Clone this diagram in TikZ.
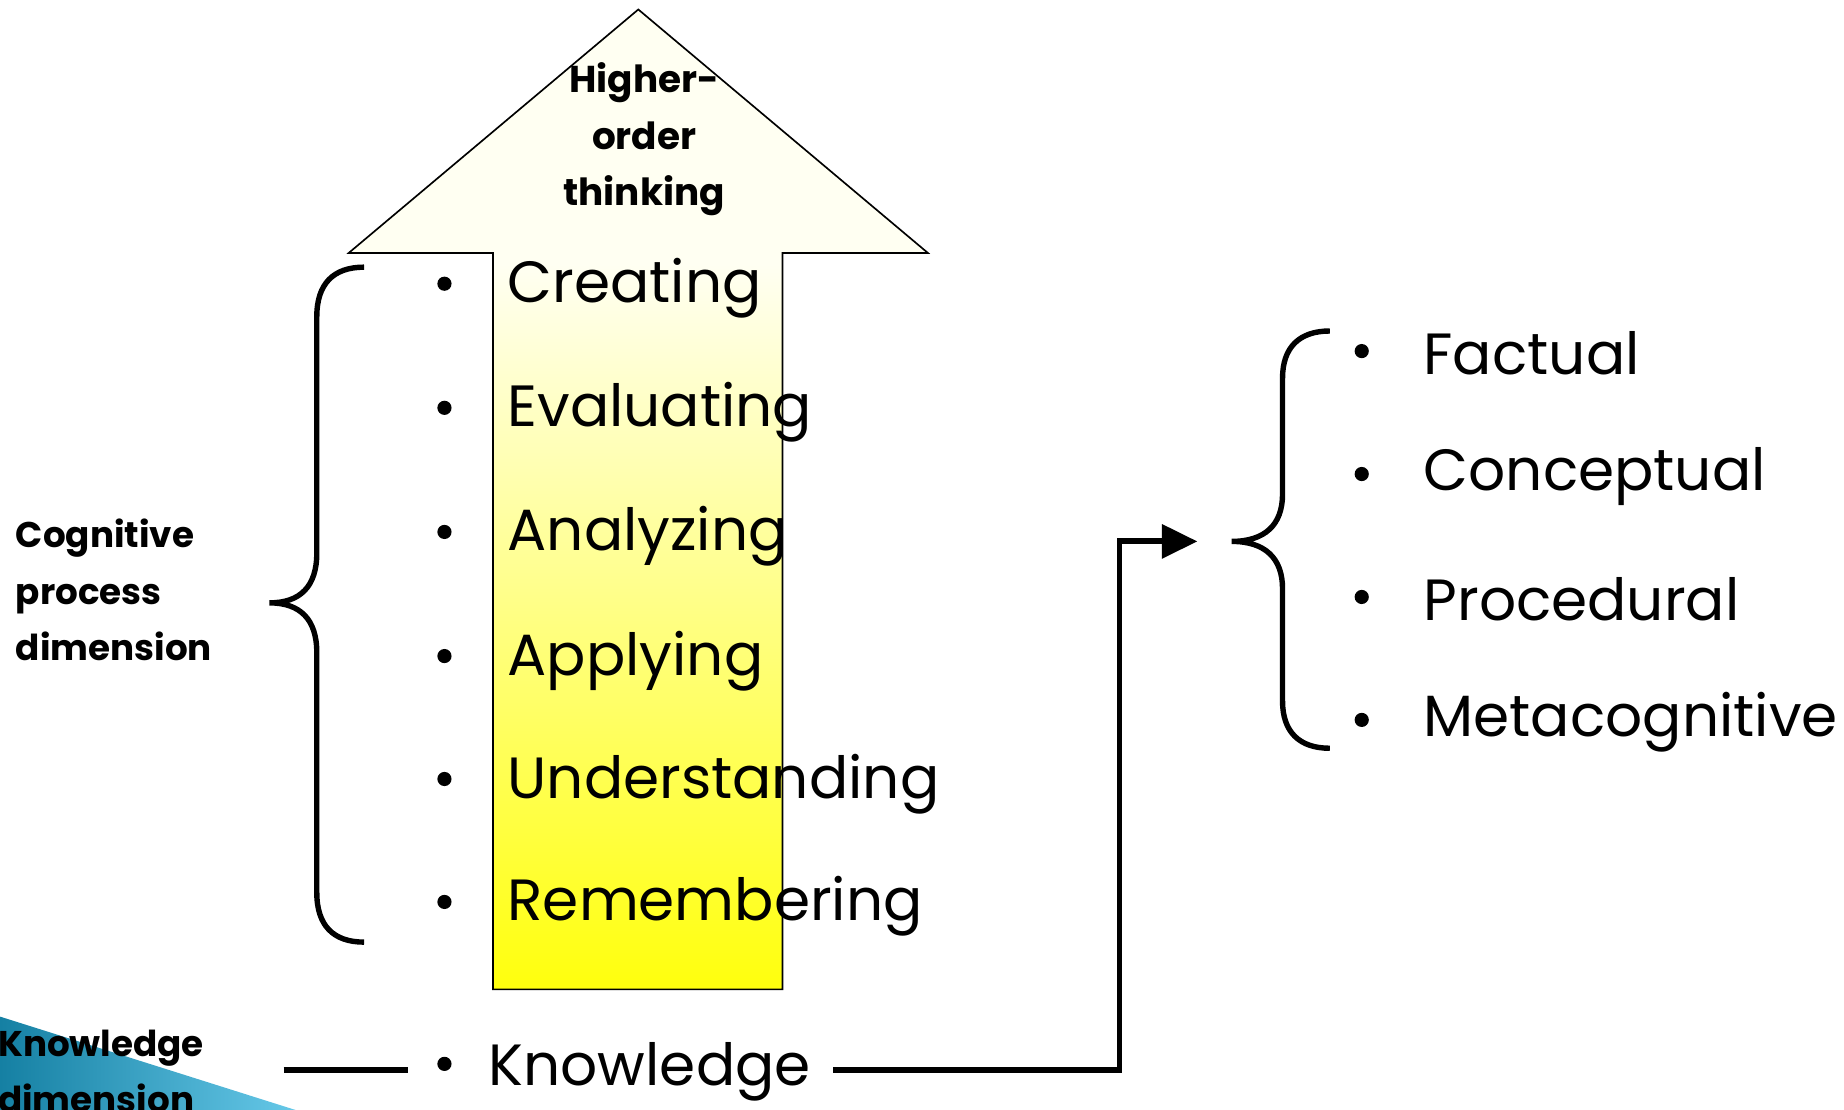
\documentclass[tikz,border=0pt]{standalone}
\usepackage{fontspec}
\setmainfont{Poppins}
\usetikzlibrary{arrows.meta}
\definecolor{cornerdark}{HTML}{1580A3}
\definecolor{cornerlight}{HTML}{66C8E8}
\definecolor{arrowtop}{HTML}{FFFFF2}
\pgfdeclareverticalshading{arrowfill}{100bp}{color(0bp)=(yellow!95!white); color(25bp)=(yellow!95!white); color(62bp)=(arrowtop); color(100bp)=(arrowtop)}

\begin{document}
\begin{tikzpicture}[x=0.1mm,y=-0.1mm,thick,
  level/.style={anchor=west,inner sep=0pt,font=\fontsize{14}{17}\selectfont},
  dimlabel/.style={anchor=west,inner sep=0pt,align=left,font=\bfseries\fontsize{8.6}{13.5}\selectfont},
  dot/.style={circle,fill=black,inner sep=0pt,minimum size=1.2mm},
  brace/.style={draw,line width=1.3pt},
  link/.style={draw,line width=1.4pt}]
\useasboundingbox (0,0) rectangle (1560,939);

% Corner
\shade[left color=cornerdark, right color=cornerlight] (0,860) -- (250,939) -- (0,939) -- cycle;

% Arrow
\shadedraw[draw=black, line width=0.4pt, shading=arrowfill]
  (540,8) -- (785,214) -- (662,214) -- (662,837) -- (417,837) -- (417,214) -- (295,214) -- cycle;
\node[dimlabel, anchor=center, align=center, font=\bfseries\fontsize{9}{13.6}\selectfont] (hot) at (545,118) {Higher-\\order\\thinking};

% Cognitive process levels
\node[dot] (d1) at (376,240) {};
\node[level] (creating) at (428,244) {Creating};
\node[dot] (d2) at (376,345) {};
\node[level] (evaluating) at (428,349) {Evaluating};
\node[dot] (d3) at (376,450) {};
\node[level] (analyzing) at (428,454) {Analyzing};
\node[dot] (d4) at (376,555) {};
\node[level] (applying) at (428,559) {Applying};
\node[dot] (d5) at (376,659) {};
\node[level] (understanding) at (428,663) {Understanding};
\node[dot] (d6) at (376,763) {};
\node[level] (remembering) at (428,767) {Remembering};

% Left brace
\coordinate (lbtop) at (308,226);
\coordinate (lbtip) at (228,510);
\coordinate (lbbot) at (308,797);
\draw[brace] (lbtop) .. controls (282,226) and (268,240) .. (268,268) -- (268,468)
  .. controls (268,496) and (254,510) .. (lbtip)
  .. controls (254,510) and (268,524) .. (268,552) -- (268,755)
  .. controls (268,783) and (282,797) .. (lbbot);
\node[dimlabel] (cogdim) at (12,499) {Cognitive\\process\\dimension};

% Knowledge
\node[dimlabel] (knowdim) at (-3,906) {Knowledge\\dimension};
\coordinate (kleft) at (240,905);
\coordinate (kright) at (345,905);
\draw[link] (kleft) -- (kright);
\node[dot] (dk) at (376,900) {};
\node[level] (knowledge) at (412,907) {Knowledge};
\coordinate (kstart) at (705,905);
\coordinate (kcorner) at (947,458);
\coordinate (ktip) at (1013,458);
\draw[link, -{Triangle[length=3mm,width=2.8mm]}] (kstart) -| (kcorner) -- (ktip);

% Right brace
\coordinate (rbtop) at (1125,280);
\coordinate (rbtip) at (1042,458);
\coordinate (rbbot) at (1125,633);
\draw[brace] (rbtop) .. controls (1099,280) and (1085,294) .. (1085,320) -- (1085,418)
  .. controls (1085,444) and (1070,458) .. (rbtip)
  .. controls (1070,458) and (1085,472) .. (1085,498) -- (1085,593)
  .. controls (1085,619) and (1099,633) .. (rbbot);

% Knowledge types
\node[dot] (r1) at (1152,297) {};
\node[level] (factual) at (1203,299) {Factual};
\node[dot] (r2) at (1152,401) {};
\node[level] (conceptual) at (1203,403) {Conceptual};
\node[dot] (r3) at (1152,505) {};
\node[level] (procedural) at (1203,507) {Procedural};
\node[dot] (r4) at (1152,609) {};
\node[level] (metacognitive) at (1203,611) {Metacognitive};

\end{tikzpicture}
\end{document}
